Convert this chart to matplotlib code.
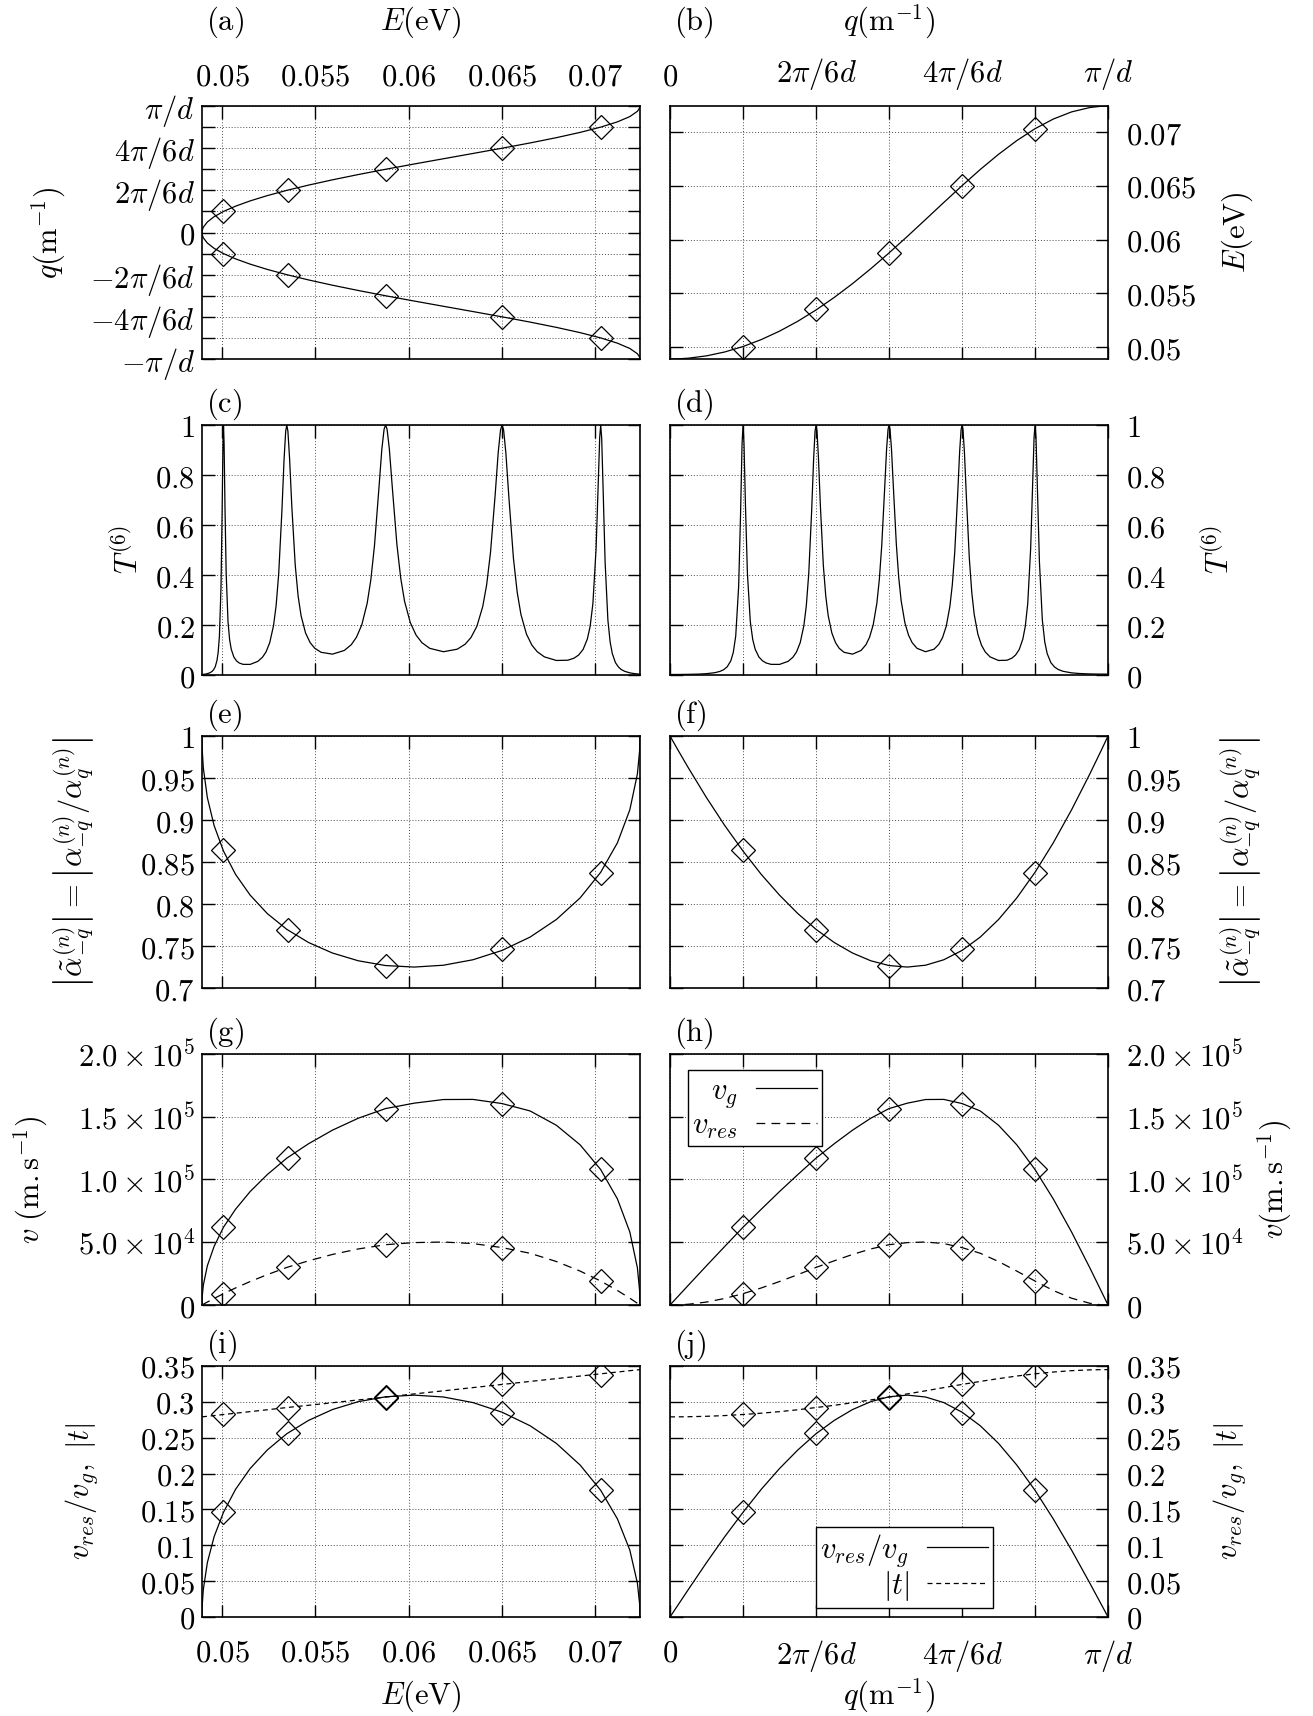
import matplotlib
matplotlib.use("Agg")
import matplotlib.pyplot as plt

plt.rcParams['mathtext.fontset'] = 'cm'
plt.rcParams['font.family'] = 'serif'
plt.rcParams['font.serif'] = ['DejaVu Serif']

fs = 22

# ---- data (q in units of pi/d, E in eV) ----
# coarse grid, smooth quantities
q_c = [0.0, 0.0167, 0.0417, 0.0833, 0.125, 0.1667, 0.2083, 0.25, 0.2917, 0.3333,
       0.375, 0.4167, 0.4583, 0.5, 0.5417, 0.5833, 0.625, 0.6667, 0.7083, 0.75,
       0.7917, 0.8333, 0.875, 0.9167, 0.9583, 0.9833, 1.0]
E_c = [0.04890, 0.048912, 0.048973, 0.049191, 0.049554, 0.050059, 0.050706, 0.051491,
       0.05241, 0.053459, 0.05463, 0.055913, 0.057298, 0.058767, 0.060301, 0.061875,
       0.063461, 0.065025, 0.066532, 0.067943, 0.06922, 0.070325, 0.071224, 0.071889,
       0.072296, 0.072412, 0.072434]
alpha_c = [1.0, 0.9846, 0.9622, 0.9266, 0.8934, 0.863, 0.8353, 0.8106, 0.7887, 0.7699,
           0.7542, 0.7417, 0.7325, 0.7268, 0.725, 0.7272, 0.7337, 0.7448, 0.7607, 0.7816,
           0.8073, 0.8378, 0.8729, 0.9121, 0.9547, 0.9816, 1.0]
vg_c = [0, 6300, 15700, 31300, 46700, 62000, 76300, 90400, 103900, 117000, 128500,
        139300, 148800, 156500, 160800, 163700, 163800, 160500, 154600, 143200, 127600,
        107900, 84500, 58200, 29700, 11900, 0]
vres_c = [0, 100, 600, 2370, 5230, 9050, 13590, 18720, 24190, 29950, 35230, 40290,
          44660, 48050, 49730, 50200, 48950, 45740, 41220, 34650, 27020, 19090, 11560,
          5430, 1400, 230, 0]
ratio_c = [0, 0.0153, 0.0382, 0.0758, 0.112, 0.146, 0.178, 0.207, 0.2328, 0.2555, 0.2741,
           0.2892, 0.3002, 0.307, 0.3093, 0.3067, 0.2989, 0.2855, 0.2666, 0.242, 0.2118,
           0.1766, 0.1367, 0.0933, 0.0473, 0.019, 0]
t_c = [0.279, 0.279, 0.2792, 0.2798, 0.2808, 0.2823, 0.2841, 0.2863, 0.2889, 0.292, 0.2951,
       0.2987, 0.3026, 0.3065, 0.311, 0.3153, 0.3198, 0.3242, 0.3284, 0.3323, 0.3359,
       0.339, 0.3415, 0.3434, 0.3445, 0.3448, 0.3449]

# fine grid, transmission T^(6)
q_f = [0.0, 0.02222, 0.04444, 0.06667, 0.08333, 0.10278, 0.11389, 0.12222, 0.13056, 0.13889,
       0.14444, 0.15, 0.15667, 0.16111, 0.16444, 0.16667,
       0.16889, 0.17222, 0.17667, 0.18333, 0.18889, 0.19444, 0.20278, 0.21111, 0.21944,
       0.23056, 0.25, 0.26944, 0.28056, 0.28889, 0.29722, 0.30556, 0.31111, 0.31667,
       0.32333, 0.32778, 0.33111, 0.33333,
       0.33556, 0.33889, 0.34333, 0.35, 0.35556, 0.36111, 0.36944, 0.37778, 0.38611,
       0.39722, 0.41667, 0.43611, 0.44722, 0.45556, 0.46389, 0.47222, 0.47778, 0.48333,
       0.49, 0.49444, 0.49778, 0.5,
       0.50222, 0.50556, 0.51, 0.51667, 0.52222, 0.52778, 0.53611, 0.54444, 0.55278,
       0.56389, 0.58333, 0.60278, 0.61389, 0.62222, 0.63056, 0.63889, 0.64444, 0.65,
       0.65667, 0.66111, 0.66444, 0.66667,
       0.66889, 0.67222, 0.67667, 0.68333, 0.68889, 0.69444, 0.70278, 0.71111, 0.71944,
       0.73056, 0.75, 0.76944, 0.78056, 0.78889, 0.79722, 0.80556, 0.81111, 0.81667,
       0.82333, 0.82778, 0.83111, 0.83333,
       0.83556, 0.83889, 0.84333, 0.85, 0.85556, 0.86111, 0.86944, 0.87778, 0.88611,
       0.89722, 0.91667, 0.93333, 0.95556, 0.97778, 1.0]
E_f = [0.0489, 0.048921, 0.048983, 0.049086, 0.049191, 0.049342, 0.049443, 0.049525,
       0.049613, 0.049706, 0.049772, 0.04984, 0.049925, 0.049984, 0.050029, 0.050059,
       0.05009, 0.050137, 0.050202, 0.050301, 0.050387, 0.050475, 0.050612, 0.050754,
       0.050902, 0.051108, 0.051491, 0.051903, 0.052152, 0.052345, 0.052543, 0.052746,
       0.052884, 0.053024, 0.053196, 0.053312, 0.0534, 0.053459,
       0.053518, 0.053608, 0.053729, 0.053913, 0.054068, 0.054226, 0.054467, 0.054712,
       0.054961, 0.055301, 0.055913, 0.056548, 0.05692, 0.057203, 0.057489, 0.057779,
       0.057974, 0.05817, 0.058408, 0.058567, 0.058687, 0.058767,
       0.058847, 0.058968, 0.05913, 0.059374, 0.059579, 0.059784, 0.060094, 0.060405,
       0.060718, 0.061137, 0.061875, 0.062616, 0.063039, 0.063356, 0.063672, 0.063987,
       0.064196, 0.064405, 0.064654, 0.064819, 0.064943, 0.065025,
       0.065108, 0.06523, 0.065394, 0.065637, 0.065839, 0.066039, 0.066336, 0.06663,
       0.066919, 0.067299, 0.067943, 0.068558, 0.068895, 0.06914, 0.069378, 0.069609,
       0.069759, 0.069906, 0.070077, 0.070189, 0.070271, 0.070325,
       0.070378, 0.070457, 0.070561, 0.070711, 0.070832, 0.070949, 0.071117, 0.071276,
       0.071425, 0.071609, 0.071889, 0.072084, 0.072278, 0.072395, 0.072434]
T_f = [0.0023, 0.0025, 0.003, 0.004, 0.0057, 0.0097, 0.0147, 0.0212, 0.033, 0.0576,
       0.0906, 0.1563, 0.3541, 0.6499, 0.9232, 1.0,
       0.9266, 0.6777, 0.407, 0.2128, 0.1416, 0.1032, 0.0727, 0.057, 0.0484, 0.0429,
       0.0427, 0.0548, 0.0713, 0.0928, 0.1297, 0.1977, 0.2767, 0.4048, 0.6559, 0.862,
       0.9753, 1.0,
       0.9757, 0.8675, 0.6748, 0.4391, 0.3158, 0.2376, 0.1684, 0.1299, 0.1073, 0.0911,
       0.0837, 0.0985, 0.1212, 0.1514, 0.2011, 0.2877, 0.3808, 0.5177, 0.7461, 0.9046,
       0.9834, 1.0,
       0.9834, 0.9052, 0.7487, 0.5234, 0.3885, 0.296, 0.2099, 0.1599, 0.1297, 0.107,
       0.0934, 0.1035, 0.1233, 0.1502, 0.1951, 0.2741, 0.3606, 0.491, 0.7205, 0.8912,
       0.9806, 1.0,
       0.9804, 0.888, 0.7086, 0.4663, 0.3309, 0.2426, 0.1638, 0.1194, 0.0931, 0.0728,
       0.0584, 0.0594, 0.0678, 0.0802, 0.1023, 0.1445, 0.1957, 0.2861, 0.506, 0.759,
       0.95, 1.0,
       0.9476, 0.7369, 0.4533, 0.2201, 0.132, 0.0857, 0.0499, 0.0324, 0.0225, 0.0151,
       0.0089, 0.0064, 0.0047, 0.0039, 0.0037]

# diamond markers (q = k pi/6d)
q_mark = [1/6, 2/6, 3/6, 4/6, 5/6]
E_mark = [0.05003, 0.05352, 0.05880, 0.06503, 0.07032]
alpha_mark = [0.864, 0.7696, 0.7268, 0.7468, 0.8368]
vg_mark = [62300, 117400, 156000, 160500, 108500]
vres_mark = [9000, 30000, 48000, 45800, 19400]
ratio_mark = [0.146, 0.256, 0.307, 0.285, 0.177]
t_mark = [0.2827, 0.292, 0.305, 0.3244, 0.338]

# ticks
E_ticks = [0.05, 0.055, 0.06, 0.065, 0.07]
E_labels = [r'$0.05$', r'$0.055$', r'$0.06$', r'$0.065$', r'$0.07$']
q_ticks = [0, 1/6, 2/6, 3/6, 4/6, 5/6, 1]
q_labels = [r'$0$', '', r'$2\pi/6d$', '', r'$4\pi/6d$', '', r'$\pi/d$']
qa_ticks = [-1, -5/6, -4/6, -3/6, -2/6, -1/6, 0, 1/6, 2/6, 3/6, 4/6, 5/6, 1]
qa_labels = [r'$-\pi/d$', '', r'$-4\pi/6d$', '', r'$-2\pi/6d$', '', r'$0$', '',
             r'$2\pi/6d$', '', r'$4\pi/6d$', '', r'$\pi/d$']
T_ticks = [0, 0.2, 0.4, 0.6, 0.8, 1.0]
T_labels = [r'$0$', r'$0.2$', r'$0.4$', r'$0.6$', r'$0.8$', r'$1$']
al_ticks = [0.7, 0.75, 0.8, 0.85, 0.9, 0.95, 1.0]
al_labels = [r'$0.7$', r'$0.75$', r'$0.8$', r'$0.85$', r'$0.9$', r'$0.95$', r'$1$']
v_ticks = [0, 5e4, 1e5, 1.5e5, 2e5]
v_labels = [r'$0$', r'$5.0\times10^{4}$', r'$1.0\times10^{5}$', r'$1.5\times10^{5}$',
            r'$2.0\times10^{5}$']
r_ticks = [0, 0.05, 0.1, 0.15, 0.2, 0.25, 0.3, 0.35]
r_labels = [r'$0$', r'$0.05$', r'$0.1$', r'$0.15$', r'$0.2$', r'$0.25$', r'$0.3$', r'$0.35$']

E_lim = (E_c[0], E_c[-1])

lw = 0.9
mk = dict(marker='D', ms=12, mfc='none', mec='k', mew=0.9, ls='none')
leg_kw = dict(loc='upper left', markerfirst=False, fancybox=False, edgecolor='k',
              framealpha=1, fontsize=fs, handlelength=2.0, handletextpad=0.6,
              borderaxespad=0, borderpad=0.15, labelspacing=0.0)

fig = plt.figure(figsize=(13.13, 17.16), dpi=100)
xl, xr, w = 0.1538, 0.5103, 0.3336
rows = [(0.7908, 0.1474), (0.6066, 0.1457), (0.4242, 0.1469), (0.2395, 0.1463), (0.0577, 0.1463)]


def setup(ax, left, row, xt, xtl, yt, ytl, ylab, ylab_x, tag):
    ax.set_xticks(xt)
    ax.set_xticklabels(xtl)
    ax.set_yticks(yt)
    ax.set_yticklabels(ytl)
    ax.tick_params(direction='in', length=9, width=1.0, top=True, right=True,
                   labelsize=fs)
    ax.tick_params(axis='x', pad=(10 if row == 0 else 15),
                   labeltop=(row == 0), labelbottom=(row == 4))
    if left:
        ax.tick_params(axis='y', pad=5, labelleft=True, labelright=False)
    else:
        ax.tick_params(axis='y', pad=13, labelleft=False, labelright=True)
        ax.yaxis.set_label_position('right')
    ax.grid(True, ls=(0, (1, 2)), lw=0.7, color='0.3')
    for s in ax.spines.values():
        s.set_linewidth(1.2)
    ax.set_ylabel(ylab, fontsize=fs, rotation=90, va='center', ha='center')
    ax.yaxis.set_label_coords(ylab_x, 0.5)
    if row == 0:
        ax.text(0.01, 1.332, tag, transform=ax.transAxes, fontsize=fs, va='center', ha='left')
    else:
        ax.text(0.01, 1.012, tag, transform=ax.transAxes, fontsize=fs, va='bottom', ha='left')


axs = {}
for r in range(5):
    axs[(r, 0)] = fig.add_axes([xl, rows[r][0], w, rows[r][1]])
    axs[(r, 1)] = fig.add_axes([xr, rows[r][0], w, rows[r][1]])

# (a)
ax = axs[(0, 0)]
ax.plot(E_c, q_c, 'k-', lw=lw)
ax.plot(E_c, [-v for v in q_c], 'k-', lw=lw)
ax.plot(E_mark, q_mark, **mk)
ax.plot(E_mark, [-v for v in q_mark], **mk)
ax.set_xlim(*E_lim)
ax.set_ylim(-1, 1)
setup(ax, True, 0, E_ticks, E_labels, qa_ticks, qa_labels, r'$q(\mathrm{m}^{-1})$', -0.35, r'$\mathrm{(a)}$')
ax.xaxis.set_label_position('top')
ax.set_xlabel(r'$E(\mathrm{eV})$', fontsize=fs, va='center')
ax.xaxis.set_label_coords(0.5, 1.332)

# (b)
ax = axs[(0, 1)]
ax.plot(q_c, E_c, 'k-', lw=lw)
ax.plot(q_mark, E_mark, **mk)
ax.set_xlim(0, 1)
ax.set_ylim(*E_lim)
setup(ax, False, 0, q_ticks, q_labels, E_ticks, E_labels, r'$E(\mathrm{eV})$', 1.295, r'$\mathrm{(b)}$')
ax.xaxis.set_label_position('top')
ax.set_xlabel(r'$q(\mathrm{m}^{-1})$', fontsize=fs, va='center')
ax.xaxis.set_label_coords(0.5, 1.332)

# (c), (d)
ax = axs[(1, 0)]
ax.plot(E_f, T_f, 'k-', lw=lw)
ax.set_xlim(*E_lim)
ax.set_ylim(0, 1)
setup(ax, True, 1, E_ticks, E_labels, T_ticks, T_labels, r'$T^{(6)}$', -0.167, r'$\mathrm{(c)}$')
ax = axs[(1, 1)]
ax.plot(q_f, T_f, 'k-', lw=lw)
ax.set_xlim(0, 1)
ax.set_ylim(0, 1)
setup(ax, False, 1, q_ticks, q_labels, T_ticks, T_labels, r'$T^{(6)}$', 1.254, r'$\mathrm{(d)}$')

# (e), (f)
alab = r'$\left|\tilde{\alpha}_{-q}^{(n)}\right| = \left|\alpha_{-q}^{(n)}/\alpha_{q}^{(n)}\right|$'
ax = axs[(2, 0)]
ax.plot(E_c, alpha_c, 'k-', lw=lw)
ax.plot(E_mark, alpha_mark, **mk)
ax.set_xlim(*E_lim)
ax.set_ylim(0.7, 1.0)
setup(ax, True, 2, E_ticks, E_labels, al_ticks, al_labels, alab, -0.292, r'$\mathrm{(e)}$')
ax = axs[(2, 1)]
ax.plot(q_c, alpha_c, 'k-', lw=lw)
ax.plot(q_mark, alpha_mark, **mk)
ax.set_xlim(0, 1)
ax.set_ylim(0.7, 1.0)
setup(ax, False, 2, q_ticks, q_labels, al_ticks, al_labels, alab, 1.304, r'$\mathrm{(f)}$')

# (g), (h)
ax = axs[(3, 0)]
ax.plot(E_c, vg_c, 'k-', lw=lw)
ax.plot(E_c, vres_c, 'k-', lw=lw, dashes=(7, 5))
ax.plot(E_mark, vg_mark, **mk)
ax.plot(E_mark, vres_mark, **mk)
ax.set_xlim(*E_lim)
ax.set_ylim(0, 2e5)
setup(ax, True, 3, E_ticks, E_labels, v_ticks, v_labels, r'$v\ (\mathrm{m.s}^{-1})$', -0.39, r'$\mathrm{(g)}$')
ax = axs[(3, 1)]
l1, = ax.plot(q_c, vg_c, 'k-', lw=lw)
l2, = ax.plot(q_c, vres_c, 'k-', lw=lw, dashes=(7, 5))
ax.plot(q_mark, vg_mark, **mk)
ax.plot(q_mark, vres_mark, **mk)
ax.set_xlim(0, 1)
ax.set_ylim(0, 2e5)
setup(ax, False, 3, q_ticks, q_labels, v_ticks, v_labels, r'$v(\mathrm{m.s}^{-1})$', 1.38, r'$\mathrm{(h)}$')
leg = ax.legend([l1, l2], [r'$v_g$', r'$v_{res}$'], bbox_to_anchor=(0.04, 0.935), **leg_kw)
leg.get_frame().set_linewidth(1.0)

# (i), (j)
rlab = r'$v_{res}/v_g,\ |t|$'
ax = axs[(4, 0)]
ax.plot(E_c, ratio_c, 'k-', lw=lw)
ax.plot(E_c, t_c, 'k-', lw=lw, dashes=(4, 3))
ax.plot(E_mark, ratio_mark, **mk)
ax.plot(E_mark, t_mark, **mk)
ax.set_xlim(*E_lim)
ax.set_ylim(0, 0.35)
setup(ax, True, 4, E_ticks, E_labels, r_ticks, r_labels, rlab, -0.274, r'$\mathrm{(i)}$')
ax.set_xlabel(r'$E(\mathrm{eV})$', fontsize=fs, va='center')
ax.xaxis.set_label_coords(0.5, -0.315)
ax = axs[(4, 1)]
l1, = ax.plot(q_c, ratio_c, 'k-', lw=lw)
l2, = ax.plot(q_c, t_c, 'k-', lw=lw, dashes=(4, 3))
ax.plot(q_mark, ratio_mark, **mk)
ax.plot(q_mark, t_mark, **mk)
ax.set_xlim(0, 1)
ax.set_ylim(0, 0.35)
setup(ax, False, 4, q_ticks, q_labels, r_ticks, r_labels, rlab, 1.277, r'$\mathrm{(j)}$')
ax.set_xlabel(r'$q(\mathrm{m}^{-1})$', fontsize=fs, va='center')
ax.xaxis.set_label_coords(0.5, -0.315)
leg = ax.legend([l1, l2], [r'$v_{res}/v_g$', r'$|t|$'], bbox_to_anchor=(0.333, 0.357), **leg_kw)
leg.get_frame().set_linewidth(1.0)

fig.savefig('out.png', dpi=100)
